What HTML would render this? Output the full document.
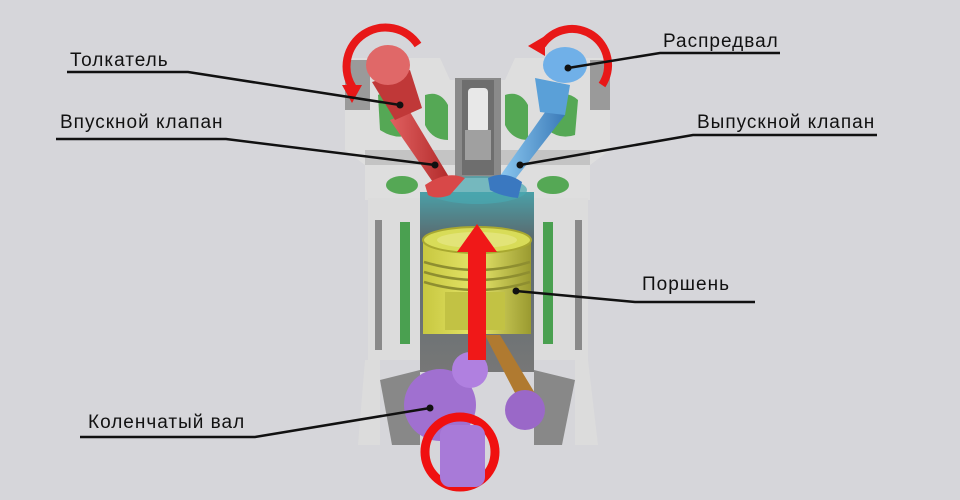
<!DOCTYPE html>
<html><head><meta charset="utf-8"><style>
html,body{margin:0;padding:0;background:#d6d6da;}
svg{display:block}
text{font-family:"Liberation Sans",sans-serif;font-size:19px;fill:#111;letter-spacing:1px}
</style></head><body>
<svg width="960" height="500" viewBox="0 0 960 500" xmlns="http://www.w3.org/2000/svg">
<defs>
<linearGradient id="bore" x1="0" x2="0" y1="0" y2="1"><stop offset="0" stop-color="#4aa0a8"/><stop offset="0.25" stop-color="#5a6b70"/><stop offset="1" stop-color="#777"/></linearGradient>
<linearGradient id="pist" x1="0" x2="1"><stop offset="0" stop-color="#c8c840"/><stop offset="0.5" stop-color="#e4e46a"/><stop offset="1" stop-color="#9a9a30"/></linearGradient>
<linearGradient id="red" x1="0" x2="1"><stop offset="0" stop-color="#e06060"/><stop offset="1" stop-color="#b02828"/></linearGradient>
<linearGradient id="blue" x1="0" x2="1"><stop offset="0" stop-color="#8cc8f0"/><stop offset="1" stop-color="#3a7ab8"/></linearGradient>
</defs>
<rect width="960" height="500" fill="#d6d6da"/>

<!-- head -->
<path d="M345 58 L440 58 L450 80 L505 80 L515 58 L610 58 L610 150 L590 165 L590 200 L365 200 L365 165 L345 150 Z" fill="#dedede"/>
<path d="M345 60 L370 60 L370 110 L345 110 Z" fill="#9a9a9a"/>
<path d="M590 60 L610 60 L610 110 L590 110 Z" fill="#9a9a9a"/>
<path d="M365 150 L590 150 L590 165 L365 165 Z" fill="#c4c4c4"/>
<rect x="455" y="78" width="46" height="100" fill="#8a8a8a"/>
<rect x="462" y="80" width="32" height="95" fill="#6e6e6e"/>
<rect x="468" y="88" width="20" height="45" rx="4" fill="#e8e8e8"/>
<rect x="465" y="130" width="26" height="30" fill="#a0a0a0"/>
<path d="M378 95 Q395 85 405 100 L410 135 Q395 140 380 130 Z" fill="#55a855"/>
<path d="M425 95 Q440 90 448 105 L448 140 Q432 140 425 125 Z" fill="#55a855"/>
<path d="M505 95 Q520 90 528 105 L528 140 Q512 140 505 125 Z" fill="#55a855"/>
<path d="M548 100 Q565 88 578 100 L575 135 Q560 140 548 130 Z" fill="#55a855"/>
<ellipse cx="402" cy="185" rx="16" ry="9" fill="#55a855"/>
<ellipse cx="553" cy="185" rx="16" ry="9" fill="#55a855"/>

<!-- block -->
<path d="M368 198 L420 198 L420 360 L380 360 L380 445 L358 445 L365 360 L368 360 Z" fill="#dcdcdc"/>
<path d="M534 198 L588 198 L588 360 L598 445 L575 445 L575 360 L534 360 Z" fill="#dcdcdc"/>
<path d="M375 220 L382 220 L382 350 L375 350 Z" fill="#8a8a8a"/>
<path d="M575 220 L582 220 L582 350 L575 350 Z" fill="#8a8a8a"/>
<rect x="400" y="222" width="10" height="122" fill="#4aa050"/>
<rect x="543" y="222" width="10" height="122" fill="#4aa050"/>
<path d="M380 380 L420 370 L420 445 L392 445 Z" fill="#888"/>
<path d="M534 370 L575 380 L562 445 L534 445 Z" fill="#888"/>
<rect x="420" y="192" width="114" height="180" fill="url(#bore)"/>
<ellipse cx="477" cy="190" rx="50" ry="14" fill="#48a8b0" opacity="0.7"/>
<rect x="423" y="238" width="108" height="96" fill="url(#pist)"/>
<ellipse cx="477" cy="240" rx="54" ry="13" fill="#d8dc58" stroke="#a8a830" stroke-width="2"/>
<ellipse cx="477" cy="240" rx="40" ry="8" fill="#e2e478"/>
<path d="M424 262 Q477 278 530 262 M424 272 Q477 288 530 272 M424 282 Q477 298 530 282" stroke="#8e8e30" stroke-width="2.5" fill="none"/>
<rect x="445" y="292" width="60" height="38" fill="#c2c244"/>
<path d="M485 335 L500 335 L545 410 L528 418 Z" fill="#b07a30"/>
<!-- crank -->
<circle cx="440" cy="405" r="36" fill="#a070d0"/>
<circle cx="470" cy="370" r="18" fill="#b080e0"/>
<circle cx="525" cy="410" r="20" fill="#9a68c8"/>
<circle cx="460" cy="452" r="35" fill="none" stroke="#f01010" stroke-width="9"/>
<rect x="440" y="425" width="45" height="62" rx="10" fill="#a87ad8"/>
<rect x="468" y="248" width="18" height="112" fill="#f01818"/>
<path d="M477 224 L497 252 L457 252 Z" fill="#f01818"/>

<path d="M390 120 L410 112 L452 182 L437 188 Z" fill="url(#red)"/>
<path d="M425 185 Q447 170 465 178 L450 195 Q437 200 428 195 Z" fill="#d84848"/>
<path d="M372 82 L410 70 L422 108 L395 120 Z" fill="#c03838"/>
<ellipse cx="388" cy="65" rx="22" ry="20" fill="#e06868"/>
<path d="M548 108 L565 115 L513 182 L500 176 Z" fill="url(#blue)"/>
<path d="M488 178 Q505 170 522 182 L518 198 Q500 196 490 190 Z" fill="#3a78c0"/>
<path d="M535 78 L570 85 L565 115 L540 112 Z" fill="#5aa0d8"/>
<ellipse cx="565" cy="65" rx="22" ry="18" fill="#70b0e8"/>
<path d="M353 88 A36 36 0 0 1 418 45" fill="none" stroke="#e81818" stroke-width="8"/>
<path d="M342 85 L362 85 L352 103 Z" fill="#e81818"/>
<path d="M542 45 A36 36 0 0 1 602 85" fill="none" stroke="#e81818" stroke-width="8"/>
<path d="M545 36 L545 56 L528 46 Z" fill="#e81818"/>

<g stroke="#111" stroke-width="2.5" fill="none">
<polyline points="67,72 188,72 400,105"/>
<polyline points="56,139 226,139 435,165"/>
<polyline points="568,68 660,53 780,53"/>
<polyline points="520,165 693,135 877,135"/>
<polyline points="516,291 635,302 755,302"/>
<polyline points="430,408 255,437 80,437"/>
</g>
<g fill="#111">
<circle cx="400" cy="105" r="3.5"/><circle cx="435" cy="165" r="3.5"/><circle cx="568" cy="68" r="3.5"/>
<circle cx="520" cy="165" r="3.5"/><circle cx="516" cy="291" r="3.5"/><circle cx="430" cy="408" r="3.5"/>
</g>
<text x="70" y="66">Толкатель</text>
<text x="60" y="128">Впускной клапан</text>
<text x="663" y="47">Распредвал</text>
<text x="697" y="128">Выпускной клапан</text>
<text x="642" y="290">Поршень</text>
<text x="88" y="428">Коленчатый вал</text>
</svg>
</body></html>
